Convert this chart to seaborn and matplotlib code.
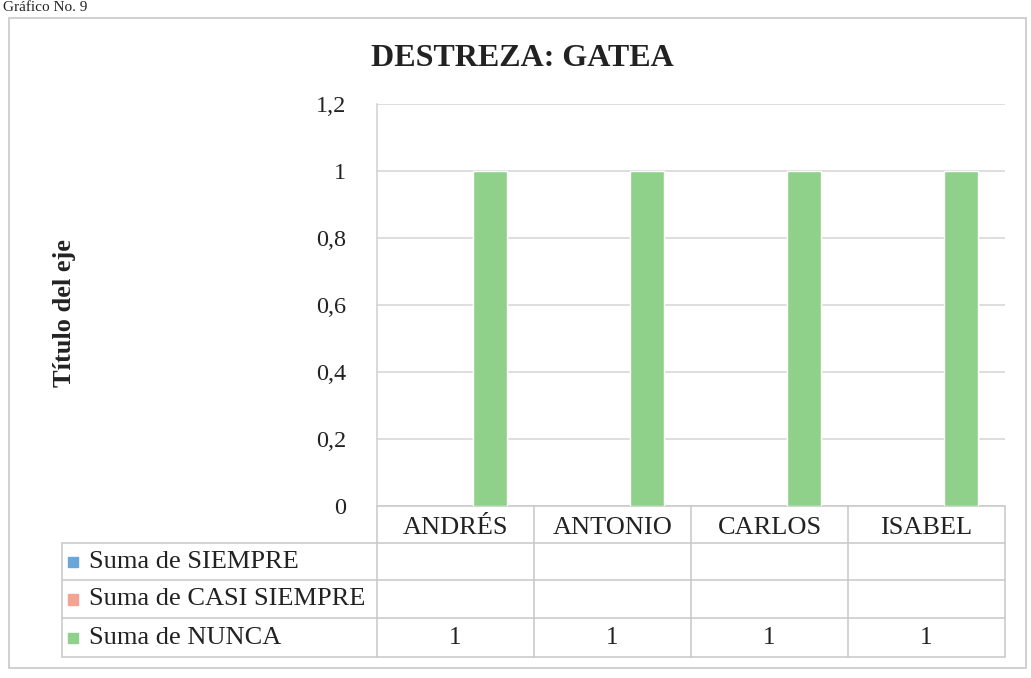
import pandas as pd
import numpy as np
import seaborn as sns
import matplotlib.pyplot as plt
from matplotlib.transforms import blended_transform_factory
from matplotlib.patches import Rectangle

alumnos = ["ANDRÉS", "ANTONIO", "CARLOS", "ISABEL"]
series = ["Suma de SIEMPRE", "Suma de CASI SIEMPRE", "Suma de NUNCA"]
siempre = [np.nan, np.nan, np.nan, np.nan]
casi_siempre = [np.nan, np.nan, np.nan, np.nan]
nunca = [1, 1, 1, 1]
colores = ["#6AA6DA", "#F4A492", "#8FD18A"]
y_ticks = [0, 0.2, 0.4, 0.6, 0.8, 1, 1.2]
y_tick_labels = ["0", "0,2", "0,4", "0,6", "0,8", "1", "1,2"]

valores = [siempre, casi_siempre, nunca]
df = pd.DataFrame({
    "alumno": alumnos * len(series),
    "serie": [s for s in series for _ in alumnos],
    "valor": siempre + casi_siempre + nunca,
})

sns.set_style("white")
plt.rcParams["font.family"] = ["Liberation Serif", "DejaVu Serif"]

W, H = 1031, 678
fig = plt.figure(figsize=(W / 100, H / 100), dpi=100)
ax = fig.add_axes([377 / W, 1 - 506 / H, (1005 - 377) / W, (506 - 104) / H])

sns.barplot(data=df, x="alumno", y="valor", hue="serie", order=alumnos,
            hue_order=series, palette=colores, saturation=1, width=0.65,
            gap=0, errorbar=None, legend=False, ax=ax, zorder=3)

ax.set_xlim(-0.5, len(alumnos) - 0.5)
ax.set_ylim(0, 1.2)
ax.set_yticks(y_ticks)
ax.set_yticklabels(y_tick_labels, fontsize=17.5, color="#222222")
ax.tick_params(axis="y", length=0, pad=22)
ax.set_xticks([])
ax.set_xlabel("")
ax.set_ylabel("")
ax.grid(axis="y", color="#D4D4D4", linewidth=1.1, zorder=0)
ax.set_axisbelow(True)
for s in ["top", "right", "bottom"]:
    ax.spines[s].set_visible(False)
ax.spines["left"].set_color("#CFCFCF")
ax.spines["left"].set_linewidth(1.1)

# data table below the plot
tr = blended_transform_factory(ax.transData, ax.transAxes)
ax_h = 506 - 104
row_px = [506, 543, 580, 618, 657]
row_y = [-(p - 506) / ax_h for p in row_px]
left_x = (62 - 377) / (1005 - 377)
line_kw = dict(color="#C8C8C8", linewidth=1.1, clip_on=False)

# horizontal lines
ax.plot([-0.5, 3.5], [row_y[0]] * 2, transform=tr, **line_kw)
for y in row_y[1:]:
    ax.plot([left_x, 1.0], [y, y], transform=ax.transAxes, **line_kw)
# vertical lines
for i in range(len(alumnos) + 1):
    ax.plot([i - 0.5] * 2, [row_y[0], row_y[-1]], transform=tr, **line_kw)
ax.plot([left_x] * 2, [row_y[1], row_y[-1]], transform=ax.transAxes, **line_kw)

for i, a in enumerate(alumnos):
    ax.text(i, (row_y[0] + row_y[1]) / 2 - 0.008, a, transform=tr,
            ha="center", va="center", fontsize=19, color="#222222")
for r, (s, vals, c) in enumerate(zip(series, valores, colores)):
    yc = (row_y[r + 1] + row_y[r + 2]) / 2
    ax.add_patch(Rectangle((left_x + 0.009, yc - 0.014), 0.016, 0.026,
                           transform=ax.transAxes, color=c, clip_on=False))
    ax.text(left_x + 0.043, yc, s, transform=ax.transAxes, ha="left",
            va="center", fontsize=19, color="#222222")
    for i, v in enumerate(vals):
        txt = "" if pd.isna(v) else f"{v:g}"
        ax.text(i, yc, txt, transform=tr, ha="center", va="center",
                fontsize=18, color="#222222")

fig.text(522 / W, 1 - 58 / H, "DESTREZA: GATEA", ha="center", va="center",
         fontsize=23, fontweight="bold", color="#222222")
fig.text(65 / W, 1 - 313 / H, "Título del eje", ha="center", va="center",
         rotation=90, fontsize=19, fontweight="bold", color="#222222")
fig.text(0.003, 0.999, "Gráfico No. 9", ha="left", va="top", fontsize=11,
         color="#222222")

# outer chart frame
fig.add_artist(Rectangle((9 / W, 1 - 668 / H), (1026 - 9) / W, (668 - 18) / H,
                         transform=fig.transFigure, fill=False,
                         edgecolor="#C8C8C8", linewidth=1.2))

fig.savefig("out.png", dpi=100, facecolor="white")
